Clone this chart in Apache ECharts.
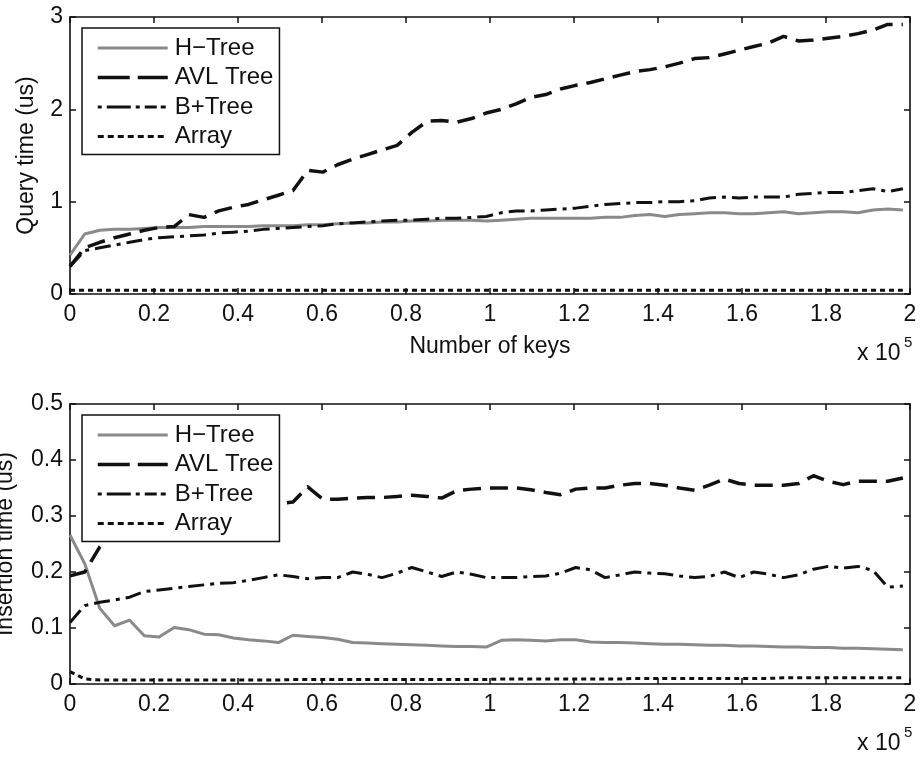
<!DOCTYPE html>
<html>
<head>
<meta charset="utf-8">
<script src="https://cdn.jsdelivr.net/npm/echarts@6/dist/echarts.min.js"></script>
<style>
html,body{margin:0;padding:0;background:#fff;}
#chart{width:920px;height:759px;}
</style>
</head>
<body>
<div id="chart"></div>
<script>
// x positions (number of keys, in units of 10^5)
const xKeys = [0, 0.035, 0.071, 0.106, 0.142, 0.177, 0.212, 0.248, 0.283, 0.319, 0.354, 0.389, 0.425, 0.460, 0.496, 0.531, 0.566, 0.602, 0.637, 0.673, 0.708, 0.743, 0.779, 0.814, 0.850, 0.885, 0.920, 0.956, 0.991, 1.027, 1.062, 1.097, 1.133, 1.168, 1.204, 1.239, 1.274, 1.310, 1.345, 1.381, 1.416, 1.451, 1.487, 1.522, 1.558, 1.593, 1.628, 1.664, 1.699, 1.735, 1.770, 1.805, 1.841, 1.876, 1.912, 1.947, 1.983];
const seriesNames = ['H\u2212Tree', 'AVL Tree', 'B+Tree', 'Array'];

// Query time (us)
const queryHTree = [0.42, 0.65, 0.69, 0.70, 0.70, 0.71, 0.72, 0.72, 0.72, 0.73, 0.73, 0.73, 0.73, 0.74, 0.74, 0.74, 0.75, 0.75, 0.76, 0.77, 0.77, 0.78, 0.78, 0.79, 0.79, 0.80, 0.80, 0.80, 0.79, 0.80, 0.81, 0.82, 0.82, 0.82, 0.82, 0.82, 0.83, 0.83, 0.85, 0.86, 0.84, 0.86, 0.87, 0.88, 0.88, 0.87, 0.87, 0.88, 0.89, 0.87, 0.88, 0.89, 0.89, 0.88, 0.91, 0.92, 0.91];
const queryAVL = [0.30, 0.50, 0.56, 0.61, 0.65, 0.69, 0.72, 0.73, 0.86, 0.83, 0.90, 0.94, 0.97, 1.02, 1.07, 1.12, 1.34, 1.32, 1.40, 1.46, 1.51, 1.56, 1.61, 1.75, 1.87, 1.88, 1.86, 1.90, 1.96, 2.00, 2.06, 2.13, 2.16, 2.22, 2.26, 2.29, 2.33, 2.37, 2.41, 2.43, 2.46, 2.50, 2.55, 2.56, 2.60, 2.64, 2.68, 2.72, 2.79, 2.74, 2.75, 2.77, 2.79, 2.82, 2.86, 2.92, 2.92];
const queryBTree = [0.30, 0.47, 0.50, 0.53, 0.56, 0.59, 0.61, 0.62, 0.63, 0.64, 0.66, 0.67, 0.68, 0.70, 0.71, 0.72, 0.73, 0.74, 0.76, 0.77, 0.78, 0.79, 0.80, 0.80, 0.81, 0.82, 0.82, 0.83, 0.84, 0.88, 0.90, 0.90, 0.91, 0.92, 0.93, 0.95, 0.97, 0.98, 0.99, 0.99, 1.00, 1.00, 1.01, 1.04, 1.05, 1.04, 1.05, 1.05, 1.05, 1.08, 1.09, 1.10, 1.10, 1.12, 1.14, 1.11, 1.14];
const queryArray = [0.04, 0.04, 0.04, 0.04, 0.04, 0.04, 0.04, 0.04, 0.04, 0.04, 0.04, 0.04, 0.04, 0.04, 0.04, 0.04, 0.04, 0.04, 0.04, 0.04, 0.04, 0.04, 0.04, 0.04, 0.04, 0.04, 0.04, 0.04, 0.04, 0.04, 0.04, 0.04, 0.04, 0.04, 0.04, 0.04, 0.04, 0.04, 0.04, 0.04, 0.04, 0.04, 0.04, 0.04, 0.04, 0.04, 0.04, 0.04, 0.04, 0.04, 0.04, 0.04, 0.04, 0.04, 0.04, 0.04, 0.04];

// Insertion time (us)
const insHTree = [0.266, 0.215, 0.135, 0.104, 0.114, 0.086, 0.084, 0.101, 0.097, 0.089, 0.088, 0.082, 0.079, 0.077, 0.074, 0.087, 0.085, 0.083, 0.080, 0.074, 0.073, 0.072, 0.071, 0.070, 0.069, 0.068, 0.067, 0.067, 0.066, 0.078, 0.079, 0.078, 0.077, 0.079, 0.079, 0.075, 0.074, 0.074, 0.073, 0.072, 0.071, 0.071, 0.070, 0.069, 0.069, 0.068, 0.068, 0.067, 0.066, 0.066, 0.065, 0.065, 0.064, 0.064, 0.063, 0.062, 0.061];
const insAVL = [0.193, 0.200, 0.245, 0.270, 0.290, 0.300, 0.305, 0.310, 0.315, 0.318, 0.320, 0.320, 0.320, 0.320, 0.322, 0.325, 0.352, 0.330, 0.330, 0.332, 0.333, 0.333, 0.335, 0.337, 0.335, 0.332, 0.345, 0.348, 0.350, 0.350, 0.350, 0.347, 0.342, 0.338, 0.348, 0.350, 0.350, 0.355, 0.358, 0.358, 0.355, 0.350, 0.346, 0.355, 0.366, 0.358, 0.355, 0.355, 0.355, 0.358, 0.372, 0.362, 0.356, 0.362, 0.362, 0.362, 0.368];
const insBTree = [0.110, 0.140, 0.146, 0.150, 0.155, 0.165, 0.168, 0.171, 0.174, 0.177, 0.180, 0.181, 0.185, 0.190, 0.195, 0.192, 0.188, 0.190, 0.190, 0.200, 0.196, 0.190, 0.198, 0.208, 0.200, 0.192, 0.200, 0.196, 0.190, 0.190, 0.190, 0.192, 0.193, 0.198, 0.208, 0.204, 0.190, 0.195, 0.200, 0.198, 0.197, 0.193, 0.190, 0.192, 0.200, 0.190, 0.200, 0.196, 0.190, 0.195, 0.205, 0.210, 0.207, 0.210, 0.203, 0.173, 0.175];
const insArray = [0.022, 0.009, 0.007, 0.007, 0.007, 0.007, 0.007, 0.007, 0.007, 0.007, 0.007, 0.007, 0.007, 0.007, 0.007, 0.008, 0.008, 0.008, 0.008, 0.008, 0.008, 0.008, 0.008, 0.008, 0.008, 0.008, 0.008, 0.008, 0.008, 0.009, 0.009, 0.009, 0.009, 0.009, 0.009, 0.009, 0.009, 0.009, 0.010, 0.010, 0.010, 0.010, 0.010, 0.010, 0.010, 0.010, 0.010, 0.010, 0.011, 0.011, 0.011, 0.011, 0.011, 0.011, 0.011, 0.011, 0.011];

const FONT = '"Liberation Sans", Arial, Helvetica, sans-serif';
const chart = echarts.init(document.getElementById('chart'), null, {renderer: 'canvas'});

const styles = [
  {color: '#8a8a8a', width: 3, type: 'solid', legendType: 'solid'},
  {color: '#111', width: 3.5, type: [18, 9], legendType: [32, 8]},
  {color: '#111', width: 3, type: [16, 6, 4, 6], legendType: [4, 5, 24, 5, 4, 5, 12]},
  {color: '#111', width: 3, type: [5, 4], legendType: [6, 4]}
];

function pairs(vals) { return xKeys.map((x, i) => [x, vals[i]]); }

function mkSeries(grid, dataSets) {
  return dataSets.map((vals, i) => ({
    name: seriesNames[i],
    type: 'line',
    xAxisIndex: grid * 2,
    yAxisIndex: grid * 2,
    data: pairs(vals),
    showSymbol: false,
    symbol: 'none',
    silent: true,
    animation: false,
    z: 2 + (i === 0 ? 0 : 1),
    lineStyle: {color: styles[i].color, width: styles[i].width, type: styles[i].type, cap: 'butt', join: 'round'},
    itemStyle: {color: styles[i].color}
  }));
}

const axisLine = {show: true, onZero: false, lineStyle: {color: '#111', width: 1.6}};
const labelStyle = {color: '#111', fontSize: 23, fontFamily: FONT};
const tick = {show: true, inside: true, length: 6, lineStyle: {color: '#111', width: 1.5}};

function xAxes(grid, withName) {
  const base = {
    type: 'value', gridIndex: grid, min: 0, max: 2, interval: 0.2,
    axisLine: axisLine, splitLine: {show: false}, axisTick: tick
  };
  return [
    Object.assign({}, base, {
      position: 'bottom',
      axisLabel: Object.assign({}, labelStyle, {margin: 9, formatter: v => String(+v.toFixed(1))}),
      name: withName ? 'Number of keys' : '',
      nameLocation: 'middle', nameGap: 41,
      nameTextStyle: labelStyle
    }),
    Object.assign({}, base, {position: 'top', axisLabel: {show: false}})
  ];
}

function yAxes(grid, max, interval, name, nameGap) {
  const base = {
    type: 'value', gridIndex: grid, min: 0, max: max, interval: interval,
    axisLine: axisLine, splitLine: {show: false}, axisTick: tick
  };
  return [
    Object.assign({}, base, {
      position: 'left',
      axisLabel: Object.assign({}, labelStyle, {margin: 7, formatter: v => String(+v.toFixed(1))}),
      name: name, nameLocation: 'middle', nameGap: nameGap,
      nameTextStyle: labelStyle
    }),
    Object.assign({}, base, {position: 'right', axisLabel: {show: false}})
  ];
}

function legend(top) {
  return {
    orient: 'vertical', left: 82, top: top,
    data: seriesNames.map((n, i) => ({
      name: n,
      lineStyle: {type: styles[i].legendType, width: styles[i].width, color: styles[i].color, cap: 'butt'},
      itemStyle: {opacity: 0}
    })),
    backgroundColor: '#fff', borderColor: '#111', borderWidth: 1.5,
    padding: [8, 6, 6, 14],
    itemWidth: 70, itemHeight: 24, itemGap: 5.5,
    itemStyle: {opacity: 0},
    textStyle: {color: '#111', fontSize: 24, fontFamily: FONT, padding: [0, 0, 0, 2]},
    selectedMode: false,
    z: 10
  };
}

function expo(top) {
  return [
    {type: 'text', left: 857, top: top - 13, style: {text: 'x 10', fontSize: 23, fontFamily: FONT, fill: '#111'}},
    {type: 'text', left: 904, top: top - 20, style: {text: '5', fontSize: 15, fontFamily: FONT, fill: '#111'}}
  ];
}

const option = {
  backgroundColor: '#fff',
  animation: false,
  grid: [
    {left: 70, top: 17, width: 840, height: 277, show: false, outerBoundsMode: 'none', containLabel: false},
    {left: 70, top: 404, width: 840, height: 280, show: false, outerBoundsMode: 'none', containLabel: false}
  ],
  xAxis: xAxes(0, true).concat(xAxes(1, false)),
  yAxis: yAxes(0, 3, 1, 'Query time (us)', 32).concat(yAxes(1, 0.5, 0.1, 'Insertion time (us)', 53)),
  legend: [legend(28), legend(415)],
  series: mkSeries(0, [queryHTree, queryAVL, queryBTree, queryArray])
    .concat(mkSeries(1, [insHTree, insAVL, insBTree, insArray])),
  graphic: expo(355).concat(expo(745))
};
chart.setOption(option);
</script>
</body>
</html>
